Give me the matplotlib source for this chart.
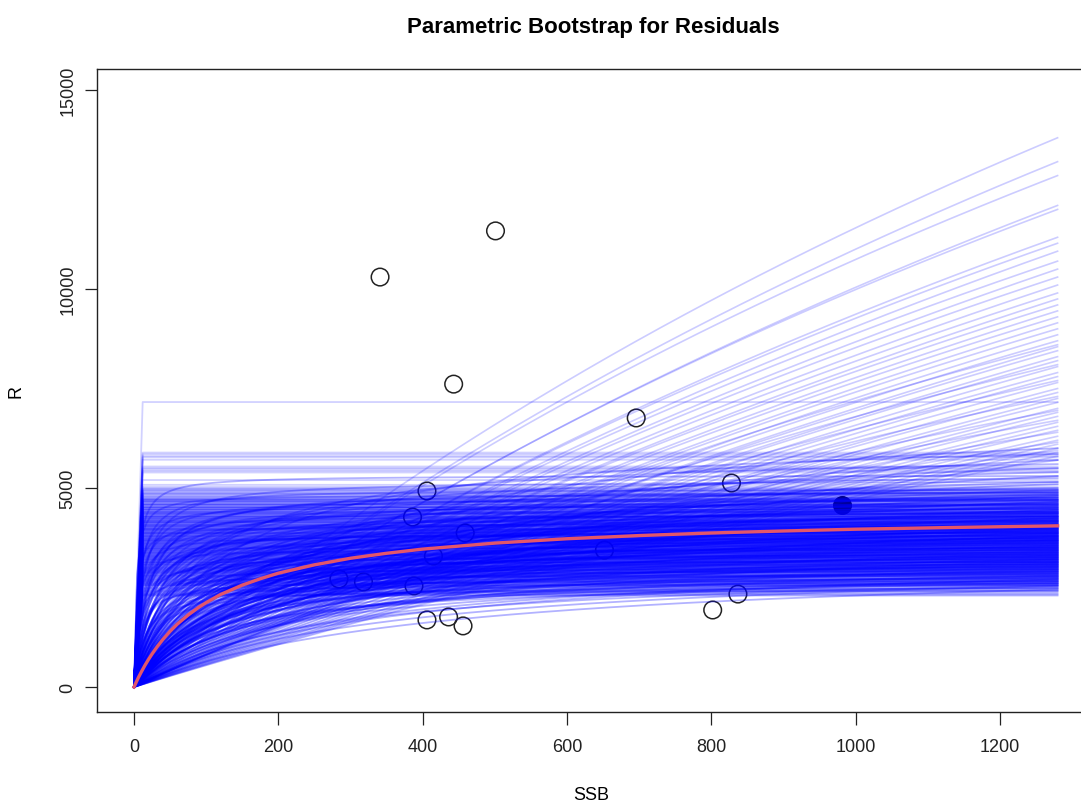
import matplotlib
matplotlib.use("Agg")
import numpy as np
import matplotlib.pyplot as plt

plt.rcParams['font.family'] = ['Liberation Sans', 'DejaVu Sans']

# observed stock-recruit pairs
ssb = [341, 501, 443, 696, 406, 386, 828, 459, 415, 652, 284, 318, 388, 406, 436, 456, 802, 837]
rec = [10300, 11460, 7610, 6760, 4925, 4270, 5125, 3870, 3290, 3440, 2715, 2640, 2540, 1685, 1760, 1535, 1935, 2335]
last_ssb, last_rec = 981, 4575

# fitted curve
fit_ssb = [0, 3, 6, 10, 15, 20, 25, 32, 40, 50, 60, 75, 90, 100, 120, 150, 175, 200, 250,
           300, 350, 400, 500, 600, 700, 800, 900, 1000, 1140, 1280]
fit_rec = [0, 120, 235, 375, 540, 690, 830, 1010, 1195, 1400, 1580, 1810, 2005, 2120, 2325,
           2560, 2720, 2860, 3070, 3235, 3360, 3465, 3615, 3725, 3805, 3870, 3920, 3965, 4010, 4050]

# bootstrap hockey-stick fits: plateau level (break at ssb ~12)
hs_break = 12
hs_level = [7160,
            5890, 5850, 5800, 5770, 5710, 5540, 5500, 5470, 5430, 5390,
            5200, 5080, 5030, 4990, 4960, 4930, 4890, 4860, 4840, 4800,
            4770, 4740, 4720, 4690, 4670, 4640, 4610, 4590, 4570, 4540,
            4520, 4500, 4470, 4450, 4430, 4410, 4390, 4370, 4350, 4330,
            4300, 4290, 4270, 4250, 4230, 4210, 4190, 4170, 4150, 4140,
            4120, 4100, 4080, 4060, 4050, 4030, 4010, 3990, 3970, 3960,
            3940, 3920, 3900, 3880, 3870, 3850, 3830, 3810, 3790, 3780,
            3760, 3740, 3720, 3700, 3690, 3670, 3650, 3630, 3610, 3600,
            3580, 3560, 3540, 3520, 3500, 3490, 3470, 3450, 3430, 3410,
            3390, 3370, 3350, 3330, 3310, 3290, 3270, 3250, 3230, 3210,
            3190, 3160, 3140, 3120, 3090, 3070, 3040, 3010, 2980, 2950,
            2920, 2890, 2860, 2820, 2790, 2750, 2710, 2670, 2630, 2590,
            2540, 2490, 2450, 2410, 2370, 2330, 2300,
            4705, 4655, 4585, 4515, 4465, 4395, 4345, 4285, 4235, 4185,
            4135, 4075, 4025, 3975, 3935, 3885, 3845, 3795, 3745, 3705,
            3665, 3625, 3575, 3535, 3485, 3445, 3405, 3365, 3325, 3285,
            3245, 3205, 3175, 3135, 3105, 3065, 3025, 2995, 2965, 2935,
            2905, 2875, 2845, 2805, 2765, 2725, 2685, 2645, 2605, 2565]

# bootstrap Beverton-Holt fits that keep climbing: value at ssb=1280, half-saturation ssb
rise_end = [13800, 13200, 12850, 12100, 12000, 11300, 11150, 10950, 10700, 10500,
            10300, 10100, 9900, 9750, 9600, 9450, 9300, 9150, 9000, 8850,
            8700, 8550, 8450, 8300, 8200, 8050, 7900, 7800, 7650, 7500,
            7400, 7250, 7150, 7000, 6900, 6800, 6650, 6550, 6450, 6300,
            6200, 6100, 6000, 5900, 5800, 8600, 8100, 7700, 7300, 6950,
            6700, 6400, 6150, 5950, 5700]
rise_half = [3000, 3200, 3000, 3500, 3300, 3600, 3400, 3800, 3500, 3900,
             3700, 4000, 3800, 4200, 3900, 4300, 4100, 4500, 4200, 4600,
             4400, 4800, 4500, 5000, 4700, 5100, 4800, 5200, 5000, 5400,
             5100, 5500, 5200, 5600, 5300, 5700, 5400, 5800, 5500, 5900,
             5600, 6000, 5700, 6000, 5800, 3000, 2800, 2600, 2400, 2200,
             2000, 1800, 1600, 1500, 1400]

# bootstrap Beverton-Holt fits that level off: value at ssb=1280, half-saturation ssb
bh_end = [6000, 5850, 5700, 5600, 5500, 5400, 5300, 5250, 5150, 5100,
          5000, 4950, 4900, 4850, 4800, 4750, 4700, 4650, 4600, 4550,
          4500, 4450, 4400, 4380, 4350, 4300, 4280, 4250, 4200, 4180,
          4150, 4100, 4080, 4050, 4000, 3980, 3950, 3900, 3880, 3850,
          3800, 3780, 3750, 3700, 3680, 3650, 3600, 3550, 3500, 3450,
          3400, 3350, 3300, 3250, 3200, 3150, 3100, 3050, 3000, 2950,
          2900, 2850, 2800, 2750, 2700, 2650, 2600, 2550, 2500, 2450,
          5300, 5150, 4950, 4880, 4820, 4760, 4700, 4620, 4560, 4480,
          4420, 4360, 4290, 4230, 4170, 4110, 4040, 3980, 3920, 3860,
          3800, 3740, 3680, 3620, 3560, 3500, 3440, 3380, 3320, 3260,
          3200, 3140, 3080, 3020, 2960, 2900, 2840, 2780, 2720, 2660,
          2600, 2540, 2480, 2420,
          4900, 4820, 4760, 4700, 4650, 4600, 4560, 4520, 4480, 4440,
          4400, 4370, 4340, 4310, 4280, 4250, 4220, 4190, 4160, 4130,
          4100, 4080, 4060, 4040, 4020, 4000, 3980, 3960, 3940, 3920,
          3900, 3880, 3860, 3840, 3820, 3800, 3780, 3760, 3740, 3720,
          3700, 3680, 3660, 3640, 3620, 3600, 3580, 3560, 3540, 3520,
          3500, 3480, 3460, 3440, 3420, 3400, 3380, 3360, 3340, 3320,
          3300, 3280, 3260, 3240, 3220, 3200, 3180, 3160, 3140, 3120,
          3100, 3080, 3060, 3040, 3020, 3000, 2970, 2940, 2910, 2880,
          2850, 2820, 2790, 2760, 2730, 2700, 2660, 2620, 2580, 2540]
bh_half = [250, 120, 300, 80, 200, 150, 350, 60, 180, 260,
           100, 220, 40, 160, 300, 90, 140, 240, 70, 190,
           110, 280, 50, 170, 130, 210, 85, 330, 150, 60,
           230, 120, 180, 45, 270, 100, 160, 75, 200, 130,
           55, 240, 110, 170, 35, 150, 90, 200, 65, 120,
           180, 50, 140, 95, 220, 40, 160, 110, 75, 260,
           130, 55, 190, 90, 320, 150, 70, 240, 110, 400,
           4, 12, 7, 20, 3, 15, 9, 25, 5, 18,
           11, 30, 6, 14, 22, 8, 3, 17, 27, 10,
           5, 13, 21, 7, 16, 28, 4, 11, 19, 9,
           24, 6, 15, 30, 8, 12, 20, 5, 26, 10,
           17, 7, 23, 14,
           20, 140, 60, 35, 210, 90, 15, 120, 45, 180,
           70, 25, 150, 100, 55, 250, 30, 85, 130, 40,
           200, 65, 110, 18, 170, 50, 95, 230, 35, 140,
           75, 12, 190, 60, 105, 280, 45, 160, 80, 25,
           125, 220, 55, 95, 170, 30, 140, 70, 240, 110,
           40, 185, 85, 20, 155, 65, 120, 260, 50, 100,
           175, 35, 145, 75, 215, 45, 115, 300, 60, 130,
           90, 195, 25, 150, 70, 240, 105, 40, 180, 85,
           130, 55, 210, 95, 160, 270, 70, 190, 120, 330]

ssb_max = 1280

fig = plt.figure(figsize=(10.81, 8.03), dpi=100)
ax = fig.add_axes([97 / 1081, 1 - 713 / 803, 988 / 1081, 643 / 803])

# observed points go underneath the bootstrap lines
ax.scatter(ssb, rec, s=160, facecolors='none', edgecolors='#222222', linewidths=1.1, zorder=1)
ax.scatter([last_ssb], [last_rec], s=160, color='black', zorder=1)

blue = (0, 0, 1)
for h in hs_level:
    ax.plot([0, hs_break, ssb_max], [0, h, h], color=blue,
            alpha=0.3 if h < 5000 else 0.18, lw=1.3, zorder=2)

s_grid = np.linspace(0, ssb_max, 300)
for r_end, half in zip(rise_end, rise_half):
    a = r_end * (half + ssb_max) / ssb_max
    ax.plot(s_grid, a * s_grid / (half + s_grid), color=blue, alpha=0.2, lw=1.2, zorder=2)
for r_end, half in zip(bh_end, bh_half):
    a = r_end * (half + ssb_max) / ssb_max
    ax.plot(s_grid, a * s_grid / (half + s_grid), color=blue, alpha=0.3, lw=1.3, zorder=2)

ax.plot(fit_ssb, fit_rec, color='#e2566a', lw=2.4, zorder=3)

ax.set_xlim(-51.3, 1318)
ax.set_ylim(-628, 15528)
ax.set_xticks([0, 200, 400, 600, 800, 1000, 1200])
ax.set_yticks([0, 5000, 10000, 15000])
plt.setp(ax.get_yticklabels(), rotation=90, va='center')
ax.tick_params(direction='out', length=9, width=0.9, colors='#222222', labelsize=13, pad=10)
ax.tick_params(axis='y', pad=6)
for sp in ax.spines.values():
    sp.set_color('#222222')
    sp.set_linewidth(1.0)

ax.set_xlabel('SSB', fontsize=13, labelpad=22)
ax.set_ylabel('R', fontsize=13, labelpad=25)
fig.text(593 / 1081, 1 - 27 / 803, 'Parametric Bootstrap for Residuals',
         ha='center', va='center', fontsize=16, fontweight='bold')

fig.savefig('out.png', dpi=100)
